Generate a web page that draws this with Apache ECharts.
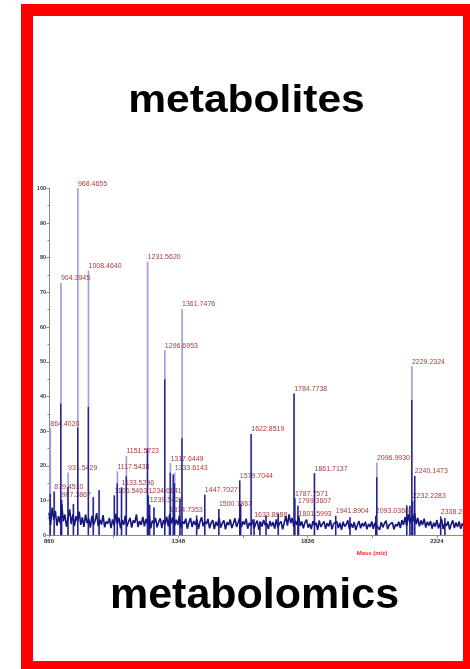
<!DOCTYPE html>
<html>
<head>
<meta charset="utf-8">
<script src="https://cdn.jsdelivr.net/npm/echarts@6/dist/echarts.min.js"></script>
<style>
  html, body { margin: 0; padding: 0; background: #ffffff; }
  #chart { width: 470px; height: 669px; }
</style>
</head>
<body>
<div id="chart"></div>
<script>
// Labelled peaks of the MALDI-TOF spectrum: m/z, relative intensity (%),
// and the height of the dense lower part of each peak.
const peakMz = [
  864.4020, 879.4510, 904.3945, 907.3867, 931.5429, 968.4655, 1008.4640,
  1106.5463, 1117.5438, 1133.5296, 1151.5723, 1231.5620, 1234.6141, 1239.5420,
  1296.6953, 1314.7353, 1317.6449, 1333.6143, 1361.7476, 1447.7027, 1500.7867,
  1579.7044, 1622.8519, 1633.8988, 1784.7738, 1787.7571, 1799.3607, 1801.5993,
  1861.7137, 1941.8904, 2093.0368, 2096.9930, 2229.2324, 2232.2283, 2240.1473,
  2338.2150
];
const peakIntensity = [
  30.9, 12.6, 72.7, 10.2, 18.1, 100.0, 76.3,
  11.5, 18.4, 13.8, 22.9, 78.8, 11.5, 8.8,
  53.3, 5.9, 20.8, 18.1, 65.2, 11.7, 7.6,
  15.8, 29.2, 4.6, 40.9, 10.7, 8.5, 4.9,
  17.9, 5.6, 5.6, 21.0, 48.7, 9.9, 17.1,
  5.4
];
const peakCore = [
  12.0, 12.6, 38.0, 10.2, 14.0, 31.0, 37.0,
  11.5, 15.0, 13.8, 17.0, 25.0, 11.5, 8.8,
  45.0, 5.9, 18.0, 15.0, 28.0, 11.7, 7.6,
  15.8, 29.2, 4.6, 40.9, 10.7, 8.5, 4.9,
  17.9, 5.6, 5.6, 16.7, 39.0, 9.9, 17.1,
  5.4
];

// Smaller unlabelled peaks
const minorMz = [952, 1027, 1049, 1256, 1329, 1354, 1417, 1583, 1656, 1679, 1725, 1996, 2210, 2222, 2354];
const minorIntensity = [9.0, 11.0, 13.0, 8.0, 17.5, 10.5, 5.7, 9.0, 4.0, 5.7, 6.2, 5.2, 8.6, 8.5, 5.0];

// Baseline noise, one reading every 6 m/z from 860
const noiseStart = 860;
const noiseStep = 6;
const noise = [
  6.5, 3.0, 8.0, 4.5, 7.0, 2.8, 5.5, 3.5, 9.0, 4.0, 6.0, 2.5, 5.0, 7.5, 3.2, 6.0, 2.7, 5.5, 4.0, 6.8,
  3.0, 5.2, 2.4, 6.0, 3.5, 4.8, 2.2, 5.6, 3.0, 4.2, 6.4, 2.6, 4.5, 3.1, 5.8, 2.3, 4.0, 3.4, 5.0, 2.1,
  4.6, 2.8, 6.2, 3.3, 5.1, 2.0, 4.4, 3.0, 5.7, 2.5, 3.9, 5.0, 2.2, 4.3, 3.6, 6.0, 2.4, 4.1, 3.0, 5.3,
  2.6, 4.7, 3.2, 5.9, 2.0, 4.2, 3.5, 5.0, 2.3, 3.8, 4.9, 2.1, 4.4, 3.1, 5.4, 2.6, 6.0, 3.4, 5.2, 2.8,
  4.5, 3.0, 5.6, 2.2, 4.0, 3.3, 4.8, 1.9, 3.7, 5.0, 2.4, 4.1, 3.0, 4.6, 1.8, 3.9, 5.2, 2.6, 4.0, 3.2,
  4.7, 2.0, 3.6, 4.4, 1.8, 3.9, 2.7, 5.0, 2.2, 3.5, 4.3, 1.7, 3.8, 2.9, 4.6, 2.1, 3.4, 4.9, 2.4, 3.7,
  5.2, 2.3, 4.0, 3.1, 4.8, 1.9, 3.6, 2.8, 4.5, 2.0, 3.3, 4.2, 1.6, 3.9, 2.5, 4.4, 2.9, 3.5, 1.8, 4.1,
  2.6, 3.8, 1.9, 4.6, 2.3, 3.4, 4.0, 1.7, 3.6, 5.5, 2.8, 6.0, 3.5, 5.0, 2.4, 4.2, 3.0, 5.6, 2.7, 4.0,
  2.0, 3.7, 4.5, 2.2, 3.3, 1.8, 4.1, 2.9, 3.6, 1.6, 4.3, 2.4, 3.2, 4.0, 1.9, 3.5, 2.6, 4.4, 1.7, 3.3,
  2.8, 4.0, 2.1, 3.6, 1.6, 3.9, 2.5, 3.2, 4.3, 1.8, 3.4, 2.2, 3.8, 1.5, 3.0, 4.1, 2.0, 3.5, 2.6, 3.9,
  1.7, 3.3, 2.4, 4.0, 1.9, 3.6, 2.8, 3.1, 1.6, 3.8, 2.3, 3.4, 4.2, 1.8, 3.0, 2.5, 3.7, 1.7, 3.2, 2.6,
  3.9, 2.1, 4.4, 3.0, 5.2, 2.7, 6.1, 3.5, 5.4, 4.0, 6.4, 3.2, 5.0, 2.6, 4.3, 3.0, 4.8, 2.2, 3.9, 2.8,
  4.1, 1.9, 3.6, 2.5, 4.4, 2.0, 3.3, 4.6, 1.8, 3.5, 2.7, 4.0, 1.7, 3.2, 4.3, 2.1, 3.7, 2.4, 4.0, 1.9,
  3.4, 2.6, 3.8, 2.2
];

// Axis ticks
const xMin = 860;
const xMax = 2449;
const xLabelTicks = [860, 1348, 1836, 2324];
const xTickMarks = [860, 1104, 1348, 1592, 1836, 2080, 2324];
const yMax = 100;
const yStep = 10;

const FONT = '"Liberation Sans", Arial, Helvetica, sans-serif';
const PEAK_LIGHT = '#a0a0e2';
const PEAK_DARK = '#22228e';
const NOISE_COLOR = '#15157f';
const LABEL_COLOR = '#a83c3c';

const peakData = peakMz.map((mz, i) => ({
  value: [mz, peakIntensity[i]],
  label: { show: true }
})).concat(minorMz.map((mz, i) => ({ value: [mz, minorIntensity[i]] })));

const coreData = peakMz.map((mz, i) => [mz, peakCore[i]])
  .concat(minorMz.map((mz, i) => [mz, minorIntensity[i]]));

const noiseData = noise.map((v, i) => [noiseStart + i * noiseStep, v]);

const chart = echarts.init(document.getElementById('chart'), null, { renderer: 'canvas' });

chart.setOption({
  animation: false,
  backgroundColor: '#ffffff',
  grid: { left: 49, top: 188.3, right: 0, height: 347, containLabel: false },
  xAxis: {
    type: 'value',
    min: xMin,
    max: xMax,
    splitLine: { show: false },
    axisLine: { show: true, onZero: false, lineStyle: { color: '#8a8a8a', width: 1 } },
    axisTick: { show: true, length: 2.5, customValues: xTickMarks, lineStyle: { color: '#8a8a8a' } },
    axisLabel: {
      customValues: xLabelTicks,
      formatter: v => String(v),
      margin: 3,
      fontSize: 6,
      fontWeight: 'bold',
      color: '#333333',
      fontFamily: FONT
    }
  },
  yAxis: {
    type: 'value',
    min: 0,
    max: yMax,
    interval: yStep,
    splitLine: { show: false },
    axisLine: { show: true, lineStyle: { color: '#8a8a8a', width: 1 } },
    axisTick: { show: true, length: 2.5, lineStyle: { color: '#8a8a8a' } },
    minorTick: { show: true, splitNumber: 2, length: 1.5, lineStyle: { color: '#8a8a8a' } },
    axisLabel: {
      margin: 3,
      fontSize: 5.5,
      fontWeight: 'bold',
      color: '#333333',
      fontFamily: FONT
    }
  },
  series: [
    {
      name: 'peaks',
      type: 'bar',
      barWidth: 1.7,
      barGap: '-100%',
      itemStyle: { color: PEAK_LIGHT },
      label: {
        show: false,
        position: 'top',
        align: 'left',
        distance: 1,
        fontSize: 7,
        fontFamily: FONT,
        color: LABEL_COLOR,
        formatter: p => p.value[0].toFixed(4)
      },
      data: peakData,
      z: 2
    },
    {
      name: 'core',
      type: 'bar',
      barWidth: 1.4,
      barGap: '-100%',
      itemStyle: { color: PEAK_DARK },
      data: coreData,
      z: 3
    },
    {
      name: 'noise',
      type: 'line',
      symbol: 'none',
      lineStyle: { color: NOISE_COLOR, width: 1.6 },
      data: noiseData,
      z: 4
    }
  ],
  graphic: [
    {
      type: 'text',
      x: 246.5,
      y: 102,
      scaleX: 1.12,
      style: {
        text: 'metabolites',
        font: 'bold 38px ' + FONT,
        fill: '#000000',
        textAlign: 'center',
        textVerticalAlign: 'middle'
      },
      z: 50
    },
    {
      type: 'text',
      x: 254.5,
      y: 596,
      style: {
        text: 'metabolomics',
        font: 'bold 43px ' + FONT,
        fill: '#000000',
        textAlign: 'center',
        textVerticalAlign: 'middle'
      },
      z: 50
    },
    {
      type: 'text',
      x: 372,
      y: 553,
      style: {
        text: 'Mass (m/z)',
        font: 'bold 6px ' + FONT,
        fill: '#ff2020',
        textAlign: 'center',
        textVerticalAlign: 'middle'
      },
      z: 50
    },
    {
      type: 'rect',
      shape: { x: 27, y: 10, width: 442, height: 657 },
      style: { fill: 'none', stroke: '#ff0000', lineWidth: 12 },
      z: 100
    }
  ]
});
</script>
</body>
</html>
